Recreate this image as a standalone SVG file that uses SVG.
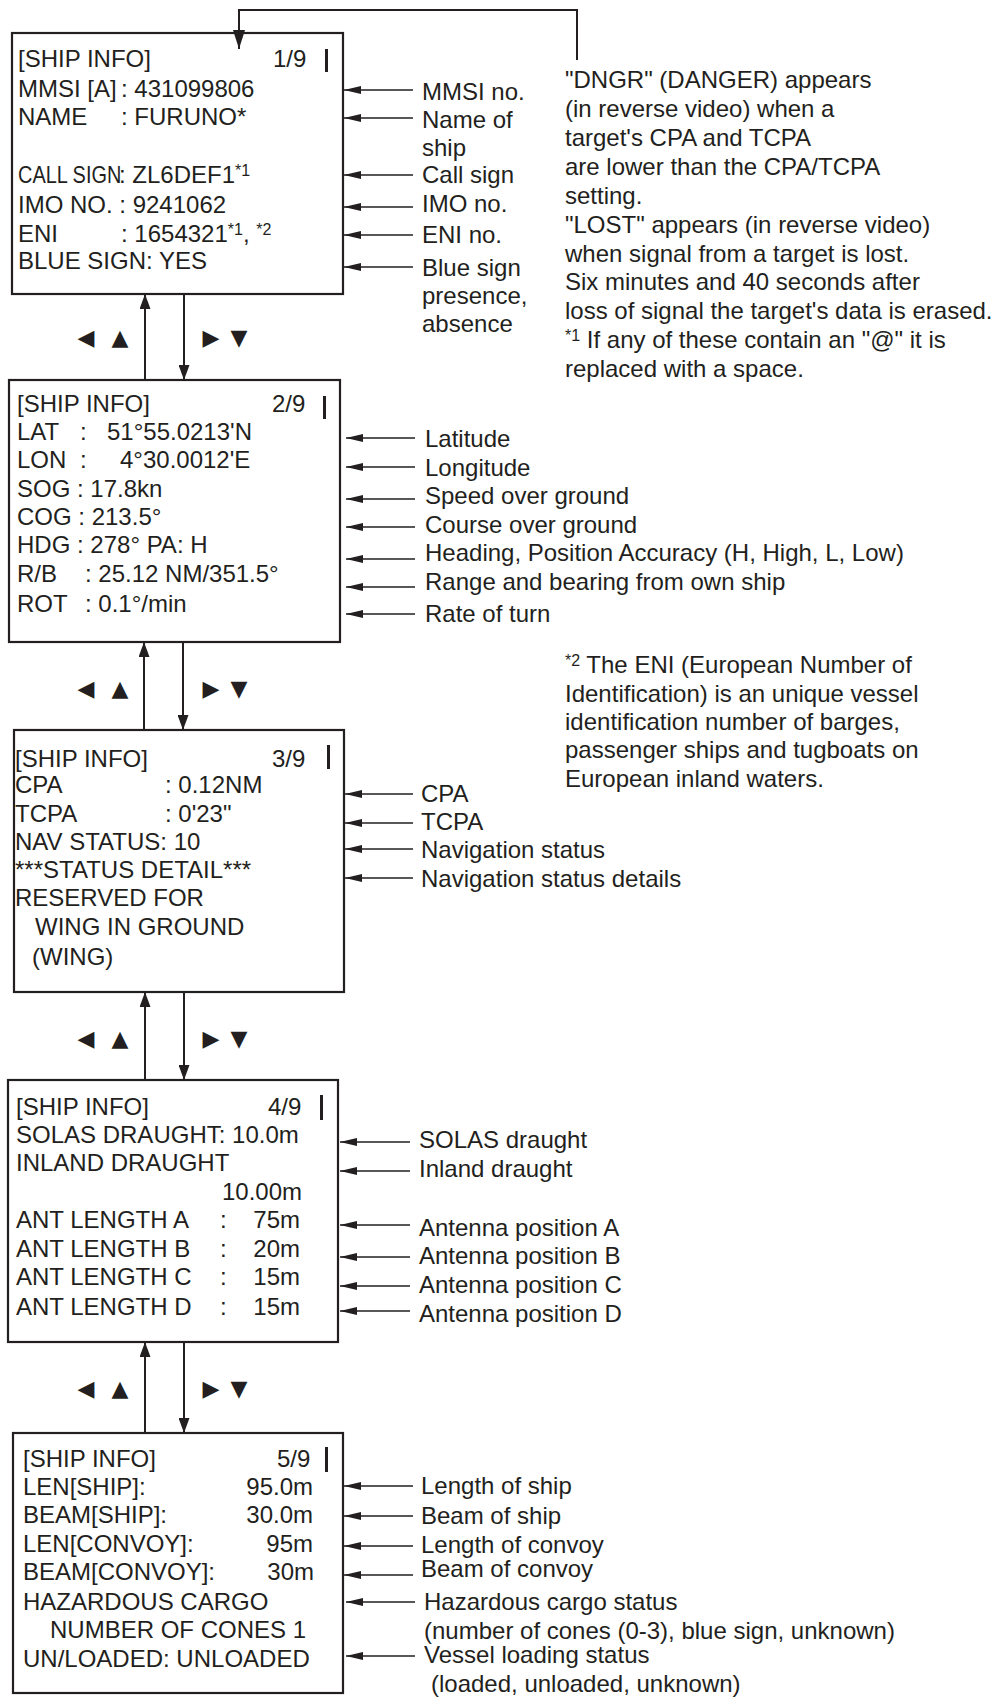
<svg xmlns="http://www.w3.org/2000/svg" width="995" height="1698" viewBox="0 0 995 1698">
<defs>
<style>
text{font-family:"Liberation Sans",Arial,Helvetica,sans-serif;font-size:24px;fill:#231f20}
.box{fill:#fff;stroke:#231f20;stroke-width:2.2}
.cur{fill:#231f20}
.conn{fill:none;stroke:#231f20;stroke-width:2}
.lbl{fill:none;stroke:#231f20;stroke-width:1.6}
.sym{font-family:"DejaVu Sans",sans-serif;font-size:22px;text-anchor:middle}
.end{text-anchor:end}
.sup{font-size:16px}
</style>
<marker id="ah" viewBox="0 0 15 11" refX="15" refY="5.5" markerWidth="15" markerHeight="11" markerUnits="userSpaceOnUse" orient="auto"><path d="M0,0 L15,5.5 L0,11 z" fill="#231f20"/></marker>
<marker id="ah2" viewBox="0 0 19 12" refX="19" refY="6" markerWidth="19" markerHeight="12" markerUnits="userSpaceOnUse" orient="auto"><path d="M0,0 L19,6 L0,12 z" fill="#231f20"/></marker>
<marker id="la" viewBox="0 0 17 8" refX="17" refY="4" markerWidth="17" markerHeight="8" markerUnits="userSpaceOnUse" orient="auto"><path d="M0,0 L17,4 L0,8 z" fill="#231f20"/></marker>
</defs>
<rect width="995" height="1698" fill="#fff"/>

<g id="page1">
<rect class="box" x="12" y="33" width="331" height="261"/>
<text x="18" y="67">[SHIP INFO]</text>
<text x="273" y="67">1/9</text>
<rect class="cur" x="325" y="49" width="3" height="23"/>
<text x="18" y="97">MMSI [A]</text><text x="121" y="97">: 431099806</text>
<text x="18" y="125">NAME</text><text x="121" y="125">: FURUNO*</text>
<text transform="translate(18,183) scale(0.83,1)" font-size="21.5">CALL SIGN</text>
<text x="119" y="183">: ZL6DEF1<tspan class="sup" dy="-7">*1</tspan></text>
<text x="18" y="213">IMO NO. : 9241062</text>
<text x="18" y="242">ENI</text><text x="121" y="242">: 1654321<tspan class="sup" dy="-7">*1</tspan><tspan dy="7">, </tspan><tspan class="sup" dy="-7">*2</tspan></text>
<text x="18" y="269">BLUE SIGN: YES</text>
</g>

<g id="page2">
<rect class="box" x="9" y="380" width="331" height="262"/>
<text x="17" y="412">[SHIP INFO]</text>
<text x="272" y="412">2/9</text>
<rect class="cur" x="323" y="396" width="3" height="23"/>
<text x="17" y="440">LAT</text><text x="80" y="440">:</text><text x="107" y="440">51°55.0213'N</text>
<text x="17" y="468">LON</text><text x="80" y="468">:</text><text x="120" y="468">4°30.0012'E</text>
<text x="17" y="497">SOG : 17.8kn</text>
<text x="17" y="525">COG : 213.5°</text>
<text x="17" y="553">HDG : 278° PA: H</text>
<text x="17" y="582">R/B</text><text x="85" y="582">: 25.12 NM/351.5°</text>
<text x="17" y="612">ROT</text><text x="85" y="612">: 0.1°/min</text>
</g>

<g id="page3">
<rect class="box" x="14" y="730" width="330" height="262"/>
<text x="15" y="767">[SHIP INFO]</text>
<text x="272" y="767">3/9</text>
<rect class="cur" x="327" y="745" width="3" height="24"/>
<text x="15" y="793">CPA</text><text x="165" y="793">: 0.12NM</text>
<text x="15" y="822">TCPA</text><text x="165" y="822">: 0'23"</text>
<text x="15" y="850">NAV STATUS: 10</text>
<text x="15" y="878">***STATUS DETAIL***</text>
<text x="15" y="906">RESERVED FOR</text>
<text x="35" y="935">WING IN GROUND</text>
<text x="32" y="965">(WING)</text>
</g>

<g id="page4">
<rect class="box" x="8" y="1080" width="330" height="262"/>
<text x="16" y="1115">[SHIP INFO]</text>
<text x="268" y="1115">4/9</text>
<rect class="cur" x="320" y="1095" width="3" height="25"/>
<text x="16" y="1143">SOLAS DRAUGHT: 10.0m</text>
<text x="16" y="1171">INLAND DRAUGHT</text>
<text class="end" x="302" y="1200">10.00m</text>
<text x="16" y="1228">ANT LENGTH A</text><text x="220" y="1228">:</text><text class="end" x="300" y="1228">75m</text>
<text x="16" y="1257">ANT LENGTH B</text><text x="220" y="1257">:</text><text class="end" x="300" y="1257">20m</text>
<text x="16" y="1285">ANT LENGTH C</text><text x="220" y="1285">:</text><text class="end" x="300" y="1285">15m</text>
<text x="16" y="1315">ANT LENGTH D</text><text x="220" y="1315">:</text><text class="end" x="300" y="1315">15m</text>
</g>

<g id="page5">
<rect class="box" x="13" y="1433" width="330" height="260"/>
<text x="23" y="1467">[SHIP INFO]</text>
<text x="277" y="1467">5/9</text>
<rect class="cur" x="325" y="1447" width="3" height="25"/>
<text x="23" y="1495">LEN[SHIP]:</text><text class="end" x="313" y="1495">95.0m</text>
<text x="23" y="1523">BEAM[SHIP]:</text><text class="end" x="313" y="1523">30.0m</text>
<text x="23" y="1552">LEN[CONVOY]:</text><text class="end" x="313" y="1552">95m</text>
<text x="23" y="1580">BEAM[CONVOY]:</text><text class="end" x="314" y="1580">30m</text>
<text x="23" y="1610">HAZARDOUS CARGO</text>
<text x="50" y="1638">NUMBER OF CONES 1</text>
<text x="23" y="1667">UN/LOADED: UNLOADED</text>
</g>

<g id="labels1">
<text x="422" y="100">MMSI no.</text>
<text x="422" y="128">Name of</text>
<text x="422" y="156">ship</text>
<text x="422" y="183">Call sign</text>
<text x="422" y="212">IMO no.</text>
<text x="422" y="243">ENI no.</text>
<text x="422" y="276">Blue sign</text>
<text x="422" y="304">presence,</text>
<text x="422" y="332">absence</text>
</g>

<g id="note1">
<text x="565" y="88">"DNGR" (DANGER) appears</text>
<text x="565" y="117">(in reverse video) when a</text>
<text x="565" y="146">target's CPA and TCPA</text>
<text x="565" y="175">are lower than the CPA/TCPA</text>
<text x="565" y="204">setting.</text>
<text x="565" y="233">"LOST" appears (in reverse video)</text>
<text x="565" y="262">when signal from a target is lost.</text>
<text x="565" y="290">Six minutes and 40 seconds after</text>
<text x="565" y="319">loss of signal the target's data is erased.</text>
<text x="565" y="348"><tspan class="sup" dy="-7">*1</tspan><tspan dy="7"> If any of these contain an "@" it is</tspan></text>
<text x="565" y="377">replaced with a space.</text>
</g>

<g id="note2">
<text x="565" y="673"><tspan class="sup" dy="-7">*2</tspan><tspan dy="7"> The ENI (European Number of</tspan></text>
<text x="565" y="702">Identification) is an unique vessel</text>
<text x="565" y="730">identification number of barges,</text>
<text x="565" y="758">passenger ships and tugboats on</text>
<text x="565" y="787">European inland waters.</text>
</g>

<g id="labels2">
<text x="425" y="447">Latitude</text>
<text x="425" y="476">Longitude</text>
<text x="425" y="504">Speed over ground</text>
<text x="425" y="533">Course over ground</text>
<text x="425" y="561">Heading, Position Accuracy (H, High, L, Low)</text>
<text x="425" y="590">Range and bearing from own ship</text>
<text x="425" y="622">Rate of turn</text>
</g>

<g id="labels3">
<text x="421" y="802">CPA</text>
<text x="421" y="830">TCPA</text>
<text x="421" y="858">Navigation status</text>
<text x="421" y="887">Navigation status details</text>
</g>

<g id="labels4">
<text x="419" y="1148">SOLAS draught</text>
<text x="419" y="1177">Inland draught</text>
<text x="419" y="1236">Antenna position A</text>
<text x="419" y="1264">Antenna position B</text>
<text x="419" y="1293">Antenna position C</text>
<text x="419" y="1322">Antenna position D</text>
</g>

<g id="labels5">
<text x="421" y="1494">Length of ship</text>
<text x="421" y="1524">Beam of ship</text>
<text x="421" y="1553">Length of convoy</text>
<text x="421" y="1577">Beam of convoy</text>
<text x="424" y="1610">Hazardous cargo status</text>
<text x="424" y="1639">(number of cones (0-3), blue sign, unknown)</text>
<text x="424" y="1663">Vessel loading status</text>
<text x="431" y="1692">(loaded, unloaded, unknown)</text>
</g>

<g id="keys">
<text class="sym" x="86" y="345">◀</text><text class="sym" x="120" y="345">▲</text>
<text class="sym" x="211" y="345">▶</text><text class="sym" x="239" y="345">▼</text>
<text class="sym" x="86" y="696">◀</text><text class="sym" x="120" y="696">▲</text>
<text class="sym" x="211" y="696">▶</text><text class="sym" x="239" y="696">▼</text>
<text class="sym" x="86" y="1046">◀</text><text class="sym" x="120" y="1046">▲</text>
<text class="sym" x="211" y="1046">▶</text><text class="sym" x="239" y="1046">▼</text>
<text class="sym" x="86" y="1396">◀</text><text class="sym" x="120" y="1396">▲</text>
<text class="sym" x="211" y="1396">▶</text><text class="sym" x="239" y="1396">▼</text>
</g>

<g id="connectors">
<path class="conn" d="M577,60 V10 H239 V49" marker-end="url(#ah2)"/>
<line class="conn" x1="145" y1="380" x2="145" y2="294" marker-end="url(#ah)"/>
<line class="conn" x1="184" y1="294" x2="184" y2="380" marker-end="url(#ah)"/>
<line class="conn" x1="144" y1="730" x2="144" y2="642" marker-end="url(#ah)"/>
<line class="conn" x1="183" y1="642" x2="183" y2="730" marker-end="url(#ah)"/>
<line class="conn" x1="145" y1="1080" x2="145" y2="992" marker-end="url(#ah)"/>
<line class="conn" x1="184" y1="992" x2="184" y2="1080" marker-end="url(#ah)"/>
<line class="conn" x1="145" y1="1433" x2="145" y2="1342" marker-end="url(#ah)"/>
<line class="conn" x1="184" y1="1342" x2="184" y2="1433" marker-end="url(#ah)"/>

<line class="lbl" x1="413" y1="90" x2="344" y2="90" marker-end="url(#la)"/>
<line class="lbl" x1="413" y1="118" x2="344" y2="118" marker-end="url(#la)"/>
<line class="lbl" x1="413" y1="175" x2="344" y2="175" marker-end="url(#la)"/>
<line class="lbl" x1="413" y1="207" x2="344" y2="207" marker-end="url(#la)"/>
<line class="lbl" x1="413" y1="235" x2="344" y2="235" marker-end="url(#la)"/>
<line class="lbl" x1="413" y1="267" x2="344" y2="267" marker-end="url(#la)"/>

<line class="lbl" x1="415" y1="438" x2="346" y2="438" marker-end="url(#la)"/>
<line class="lbl" x1="415" y1="467" x2="346" y2="467" marker-end="url(#la)"/>
<line class="lbl" x1="415" y1="499" x2="346" y2="499" marker-end="url(#la)"/>
<line class="lbl" x1="415" y1="527" x2="346" y2="527" marker-end="url(#la)"/>
<line class="lbl" x1="415" y1="559" x2="346" y2="559" marker-end="url(#la)"/>
<line class="lbl" x1="415" y1="587" x2="346" y2="587" marker-end="url(#la)"/>
<line class="lbl" x1="415" y1="614" x2="346" y2="614" marker-end="url(#la)"/>

<line class="lbl" x1="413" y1="794" x2="345" y2="794" marker-end="url(#la)"/>
<line class="lbl" x1="413" y1="823" x2="345" y2="823" marker-end="url(#la)"/>
<line class="lbl" x1="413" y1="849" x2="345" y2="849" marker-end="url(#la)"/>
<line class="lbl" x1="413" y1="878" x2="345" y2="878" marker-end="url(#la)"/>

<line class="lbl" x1="410" y1="1142" x2="340" y2="1142" marker-end="url(#la)"/>
<line class="lbl" x1="410" y1="1171" x2="340" y2="1171" marker-end="url(#la)"/>
<line class="lbl" x1="410" y1="1225" x2="340" y2="1225" marker-end="url(#la)"/>
<line class="lbl" x1="410" y1="1257" x2="340" y2="1257" marker-end="url(#la)"/>
<line class="lbl" x1="410" y1="1286" x2="340" y2="1286" marker-end="url(#la)"/>
<line class="lbl" x1="410" y1="1311" x2="340" y2="1311" marker-end="url(#la)"/>

<line class="lbl" x1="413" y1="1486" x2="344" y2="1486" marker-end="url(#la)"/>
<line class="lbl" x1="413" y1="1516" x2="344" y2="1516" marker-end="url(#la)"/>
<line class="lbl" x1="413" y1="1546" x2="344" y2="1546" marker-end="url(#la)"/>
<line class="lbl" x1="413" y1="1575" x2="344" y2="1575" marker-end="url(#la)"/>
<line class="lbl" x1="415" y1="1602" x2="346" y2="1602" marker-end="url(#la)"/>
<line class="lbl" x1="415" y1="1656" x2="346" y2="1656" marker-end="url(#la)"/>
</g>
</svg>
